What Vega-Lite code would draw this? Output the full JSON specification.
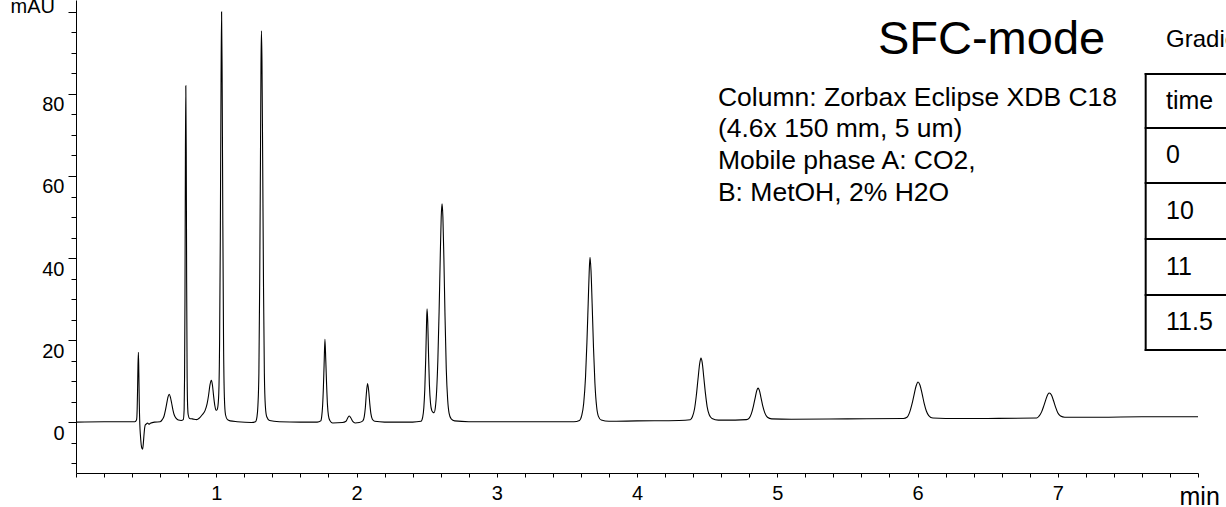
{
  "$schema": "https://vega.github.io/schema/vega-lite/v6.json",
  "width": 1122,
  "height": 473,
  "autosize": {"type": "none"},
  "padding": {"left": 76, "top": 0, "right": 28, "bottom": 34},
  "background": "white",
  "config": {
    "view": {"stroke": null},
    "font": "Liberation Sans",
    "axis": {"grid": false, "domainColor": "black", "tickColor": "black", "labelColor": "black", "titleColor": "black", "labelFont": "Liberation Sans", "titleFont": "Liberation Sans", "titleFontWeight": "normal", "domainWidth": 1, "tickWidth": 1}
  },
  "datasets": {
    "chrom": [
      {"t":0,"v":0},{"t":0.2,"v":0.1},{"t":0.42,"v":0.1},{"t":0.432,"v":0.6},{"t":0.436,"v":3},{"t":0.439,"v":8},{"t":0.442,"v":14},{"t":0.445,"v":17},{"t":0.448,"v":12},{"t":0.451,"v":5},{"t":0.455,"v":-0.5},{"t":0.46,"v":-3.5},{"t":0.465,"v":-5.5},{"t":0.47,"v":-6.4},{"t":0.475,"v":-6.6},{"t":0.48,"v":-5.2},{"t":0.485,"v":-3},{"t":0.49,"v":-1.3},{"t":0.495,"v":-0.6},{"t":0.5,"v":-0.5},{"t":0.51,"v":-0.2},{"t":0.52,"v":-0.5},{"t":0.53,"v":-0.3},{"t":0.56,"v":0},{"t":0.6,"v":0.1},
      {"t":0.615,"v":0.6},{"t":0.628,"v":1.5},{"t":0.637,"v":2.8},{"t":0.646,"v":4.4},{"t":0.655,"v":6.0},{"t":0.664,"v":6.8},{"t":0.673,"v":6.1},{"t":0.682,"v":4.6},{"t":0.691,"v":3.0},{"t":0.7,"v":1.8},{"t":0.715,"v":0.9},{"t":0.73,"v":0.5},{"t":0.75,"v":0.4},
      {"t":0.765,"v":0.6},{"t":0.771,"v":3},{"t":0.774,"v":11},{"t":0.777,"v":30},{"t":0.78,"v":64},{"t":0.783,"v":82},{"t":0.786,"v":66},{"t":0.789,"v":34},{"t":0.792,"v":13},{"t":0.795,"v":5},{"t":0.8,"v":1.8},{"t":0.81,"v":0.9},{"t":0.83,"v":0.8},{"t":0.86,"v":0.6},{"t":0.88,"v":1.0},{"t":0.9,"v":1.8},{"t":0.92,"v":2.8},{"t":0.935,"v":4.5},
      {"t":0.945,"v":6.5},{"t":0.955,"v":9.0},{"t":0.965,"v":10.2},{"t":0.973,"v":9.0},{"t":0.981,"v":6.4},{"t":0.99,"v":4.0},{"t":0.997,"v":3.0},{"t":1.003,"v":2.9},
      {"t":1.01,"v":3.5},{"t":1.018,"v":7},{"t":1.024,"v":20},{"t":1.029,"v":45},{"t":1.034,"v":82},{"t":1.038,"v":100},{"t":1.042,"v":84},{"t":1.047,"v":48},{"t":1.052,"v":20},{"t":1.058,"v":6},{"t":1.066,"v":1.8},{"t":1.08,"v":0.6},{"t":1.1,"v":0.3},{"t":1.15,"v":0.1},{"t":1.25,"v":-0.1},{"t":1.28,"v":0.1},
      {"t":1.29,"v":1.2},{"t":1.297,"v":4},{"t":1.304,"v":12},{"t":1.31,"v":35},{"t":1.315,"v":63},{"t":1.319,"v":87},{"t":1.322,"v":95.4},{"t":1.326,"v":88},{"t":1.331,"v":64},{"t":1.337,"v":33},{"t":1.343,"v":12},{"t":1.35,"v":4},{"t":1.36,"v":1.3},{"t":1.38,"v":0.4},{"t":1.45,"v":0.1},{"t":1.6,"v":0},{"t":1.72,"v":0},
      {"t":1.745,"v":0.3},{"t":1.752,"v":1.4},{"t":1.758,"v":3.8},{"t":1.764,"v":8.5},{"t":1.769,"v":14},{"t":1.775,"v":20.2},{"t":1.781,"v":15},{"t":1.787,"v":9},{"t":1.793,"v":4.2},{"t":1.8,"v":1.6},{"t":1.81,"v":0.4},{"t":1.83,"v":-0.2},{"t":1.9,"v":-0.1},
      {"t":1.925,"v":0.2},{"t":1.94,"v":1.2},{"t":1.949,"v":1.5},{"t":1.96,"v":1.0},{"t":1.975,"v":0.1},{"t":1.99,"v":-0.2},{"t":2.02,"v":-0.1},{"t":2.045,"v":0.3},
      {"t":2.055,"v":1.3},{"t":2.063,"v":3.5},{"t":2.07,"v":6.8},{"t":2.079,"v":9.4},{"t":2.087,"v":7.6},{"t":2.095,"v":4.4},{"t":2.103,"v":2.0},{"t":2.113,"v":0.7},{"t":2.13,"v":0.2},{"t":2.2,"v":0},{"t":2.4,"v":0},{"t":2.46,"v":0.2},
      {"t":2.472,"v":1.2},{"t":2.48,"v":3.5},{"t":2.487,"v":8},{"t":2.494,"v":16},{"t":2.499,"v":23.5},{"t":2.503,"v":27.6},{"t":2.508,"v":24.5},{"t":2.514,"v":16},{"t":2.52,"v":9},{"t":2.528,"v":4.5},{"t":2.537,"v":2.8},{"t":2.545,"v":2.4},{"t":2.553,"v":2.3},
      {"t":2.562,"v":3.5},{"t":2.572,"v":8},{"t":2.58,"v":15},{"t":2.589,"v":27},{"t":2.597,"v":40},{"t":2.604,"v":50},{"t":2.61,"v":53.2},{"t":2.616,"v":50},{"t":2.623,"v":40},{"t":2.631,"v":26},{"t":2.64,"v":13},{"t":2.65,"v":5.5},{"t":2.66,"v":2.2},{"t":2.675,"v":0.8},{"t":2.7,"v":0.3},{"t":2.8,"v":0.1},{"t":3.2,"v":0.1},{"t":3.55,"v":0.1},
      {"t":3.59,"v":0.4},{"t":3.605,"v":1.5},{"t":3.62,"v":4.6},{"t":3.633,"v":11},{"t":3.643,"v":19.5},{"t":3.652,"v":29},{"t":3.659,"v":36.5},{"t":3.665,"v":40.2},{"t":3.672,"v":37},{"t":3.68,"v":29},{"t":3.69,"v":18},{"t":3.7,"v":9.5},{"t":3.712,"v":3.8},{"t":3.725,"v":1.4},{"t":3.745,"v":0.5},{"t":3.8,"v":0.2},{"t":4.0,"v":0.3},{"t":4.3,"v":0.4},
      {"t":4.38,"v":0.6},{"t":4.395,"v":1.3},{"t":4.41,"v":3.2},{"t":4.423,"v":6.5},{"t":4.435,"v":10.5},{"t":4.447,"v":14.3},{"t":4.456,"v":15.6},{"t":4.465,"v":14.5},{"t":4.476,"v":11},{"t":4.488,"v":7},{"t":4.5,"v":3.8},{"t":4.515,"v":1.8},{"t":4.535,"v":0.9},{"t":4.58,"v":0.5},{"t":4.7,"v":0.5},{"t":4.78,"v":0.6},
      {"t":4.8,"v":1.0},{"t":4.815,"v":2.0},{"t":4.83,"v":3.9},{"t":4.843,"v":6.0},{"t":4.855,"v":7.8},{"t":4.863,"v":8.3},{"t":4.872,"v":7.8},{"t":4.884,"v":6.0},{"t":4.897,"v":3.9},{"t":4.912,"v":2.2},{"t":4.93,"v":1.2},{"t":4.96,"v":0.8},{"t":5.1,"v":0.7},{"t":5.5,"v":0.8},{"t":5.9,"v":0.9},
      {"t":5.925,"v":1.2},{"t":5.945,"v":2.5},{"t":5.96,"v":4.3},{"t":5.975,"v":6.6},{"t":5.99,"v":8.8},{"t":6.004,"v":9.8},{"t":6.018,"v":9.0},{"t":6.033,"v":6.9},{"t":6.048,"v":4.5},{"t":6.063,"v":2.7},{"t":6.08,"v":1.6},{"t":6.11,"v":1.0},{"t":6.2,"v":0.9},{"t":6.5,"v":0.9},{"t":6.85,"v":1.0},
      {"t":6.865,"v":1.4},{"t":6.885,"v":2.5},{"t":6.9,"v":3.9},{"t":6.915,"v":5.5},{"t":6.93,"v":6.8},{"t":6.94,"v":7.1},{"t":6.955,"v":6.6},{"t":6.97,"v":5.2},{"t":6.985,"v":3.6},{"t":7.0,"v":2.3},{"t":7.02,"v":1.5},{"t":7.05,"v":1.2},{"t":7.3,"v":1.2},{"t":7.6,"v":1.3},{"t":8.0,"v":1.3}
    ],
    "tableLines": [
      {"t":7.627,"t2":7.627,"v":84.86,"v2":17.58},
      {"t":7.627,"t2":8.6,"v":84.86,"v2":84.86},
      {"t":7.627,"t2":8.6,"v":71.7,"v2":71.7},
      {"t":7.627,"t2":8.6,"v":58.29,"v2":58.29},
      {"t":7.627,"t2":8.6,"v":44.64,"v2":44.64},
      {"t":7.627,"t2":8.6,"v":31.0,"v2":31.0},
      {"t":7.627,"t2":8.6,"v":17.58,"v2":17.58}
    ],
    "tableText": [
      {"t":7.772,"v":78.28,"label":"time"},
      {"t":7.772,"v":65.0,"label":"0"},
      {"t":7.772,"v":51.47,"label":"10"},
      {"t":7.772,"v":37.8,"label":"11"},
      {"t":7.772,"v":24.29,"label":"11.5"}
    ],
    "info": [
      {"t":4.577,"v":77.06,"label":"Column: Zorbax Eclipse XDB C18"},
      {"t":4.577,"v":69.5,"label":"(4.6x 150 mm, 5 um)"},
      {"t":4.577,"v":61.7,"label":"Mobile phase A: CO2,"},
      {"t":4.577,"v":53.9,"label":"B: MetOH, 2% H2O"}
    ],
    "heading": [
      {"t":5.718,"v":89.74,"label":"SFC-mode"}
    ],
    "grad": [
      {"t":7.772,"v":91.52,"label":"Gradient"}
    ]
  },
  "encoding": {
    "x": {
      "field": "t", "type": "quantitative",
      "scale": {"domain": [0, 8], "nice": false, "zero": false},
      "axis": {
        "values": [0,0.2,0.4,0.6,0.8,1,1.2,1.4,1.6,1.8,2,2.2,2.4,2.6,2.8,3,3.2,3.4,3.6,3.8,4,4.2,4.4,4.6,4.8,5,5.2,5.4,5.6,5.8,6,6.2,6.4,6.6,6.8,7,7.2,7.4,7.6,7.8,8],
        "labelExpr": "(abs(datum.value - round(datum.value)) < 0.001 && datum.value > 0.5 && datum.value < 7.5) ? format(datum.value, 'd') : ''",
        "labelOverlap": false, "labelFlush": false, "labelBound": false,
        "tickSize": 4, "labelPadding": 6, "labelFontSize": 20, "labelBaseline": "top",
        "title": "min", "titleFontSize": 25, "titleX": 1103, "titleY": 31, "titleAlign": "left", "titleBaseline": "alphabetic", "titleAnchor": "start"
      }
    },
    "y": {
      "field": "v", "type": "quantitative",
      "scale": {"domain": [-12.4, 102.9], "nice": false, "zero": false},
      "axis": {
        "values": [-10,-5,0,5,10,15,20,25,30,35,40,45,50,55,60,65,70,75,80,85,90,95,100],
        "labelExpr": "(datum.value % 20 === 0 && datum.value >= 0 && datum.value < 100) ? datum.label : ''",
        "labelOverlap": false, "labelFlush": false, "labelBound": false,
        "tickSize": {"condition": {"test": "datum.value % 20 === 0", "value": 8}, "value": 5},
        "labelPadding": 4, "labelFontSize": 20, "labelBaseline": "middle", "labelOffset": 11,
        "title": "mAU", "titleFontSize": 20, "titleAngle": 0, "titleX": -66, "titleY": 12, "titleAlign": "left", "titleBaseline": "alphabetic", "titleAnchor": "start"
      }
    }
  },
  "layer": [
    {
      "data": {"name": "chrom"},
      "mark": {"type": "line", "color": "black", "strokeWidth": 1.1, "interpolate": "monotone"}
    },
    {
      "data": {"name": "tableLines"},
      "mark": {"type": "rule", "color": "black", "strokeWidth": 2, "strokeCap": "square", "clip": false},
      "encoding": {"x2": {"field": "t2"}, "y2": {"field": "v2"}}
    },
    {
      "data": {"name": "tableText"},
      "mark": {"type": "text", "align": "left", "baseline": "middle", "fontSize": 25, "font": "Liberation Sans", "color": "black", "clip": false},
      "encoding": {"text": {"field": "label"}}
    },
    {
      "data": {"name": "info"},
      "mark": {"type": "text", "align": "left", "baseline": "alphabetic", "fontSize": 26.5, "font": "Liberation Sans", "color": "black", "clip": false},
      "encoding": {"text": {"field": "label"}}
    },
    {
      "data": {"name": "heading"},
      "mark": {"type": "text", "align": "left", "baseline": "alphabetic", "fontSize": 47, "font": "Liberation Sans", "color": "black", "clip": false},
      "encoding": {"text": {"field": "label"}}
    },
    {
      "data": {"name": "grad"},
      "mark": {"type": "text", "align": "left", "baseline": "alphabetic", "fontSize": 24, "font": "Liberation Sans", "color": "black", "clip": false},
      "encoding": {"text": {"field": "label"}}
    }
  ]
}
